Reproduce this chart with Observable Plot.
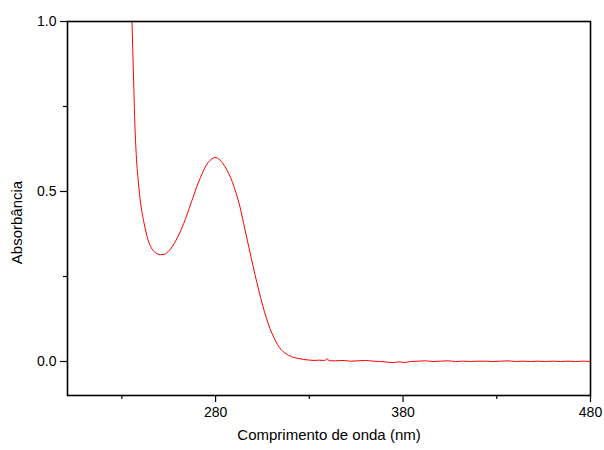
<!DOCTYPE html>
<html>
<head>
<meta charset="utf-8">
<script src="https://cdn.jsdelivr.net/npm/d3@7"></script>
<script src="https://cdn.jsdelivr.net/npm/@observablehq/plot@0.6"></script>
<style>
  body { margin: 0; background: #fff; }
  svg { font-family: "Liberation Sans", Arial, sans-serif; }
</style>
</head>
<body>
<div id="chart"></div>
<script>
// Wavelength (nm)
const wavelength = [
  235.4, 236.3, 236.8, 237.5, 238.8, 240.0, 241.8, 243.9, 246.2, 248.5, 250.7,
  252.5, 254, 256, 258, 260, 262, 264, 266, 268, 270, 272, 274, 276, 278, 279.6, 281,
  283, 285, 287, 289, 291, 293, 295, 297, 299, 301, 303, 305, 307, 309, 311, 313,
  315, 317, 319, 321, 323, 325, 327, 330, 333, 335, 338, 339.6, 340.5, 344, 348, 352,
  356, 360, 364, 368, 372, 375, 378, 381, 384, 388, 392, 396, 400, 404, 408, 412,
  416, 420, 424, 428, 432, 436, 440, 444, 448, 452, 456, 460, 464, 468, 472, 476, 480
];
// Absorbance
const absorbance = [
  1.0, 0.822, 0.721, 0.626, 0.528, 0.466, 0.408, 0.359, 0.330, 0.318, 0.314,
  0.315, 0.32, 0.331, 0.348, 0.368, 0.393, 0.42, 0.452, 0.483, 0.515, 0.542, 0.567, 0.585, 0.596, 0.6, 0.598,
  0.589, 0.573, 0.553, 0.527, 0.494, 0.455, 0.405, 0.355, 0.305, 0.256, 0.21, 0.167, 0.13, 0.097, 0.072, 0.05,
  0.035, 0.025, 0.018, 0.013, 0.01, 0.008, 0.006, 0.004, 0.003, 0.004, 0.003, 0.008, 0.002, 0.002, 0.003, 0.001,
  0.002, 0.003, 0.001, 0.0, -0.002, -0.003, -0.001, -0.003, 0.0, 0.001, 0.002, 0.0, 0.001, 0.002, 0.0, 0.001,
  0.0, 0.001, 0.001, 0.0, 0.001, 0.002, 0.0, 0.001, 0.0, 0.001, 0.0, 0.001, 0.0, 0.001, 0.0, 0.001, 0.0
];
const xMajorTicks = [280, 380, 480];
const xMinorTicks = [230, 330, 430];
const yMajorTicks = [0.0, 0.5, 1.0];
const yMinorTicks = [0.25, 0.75];
const xLabel = "Comprimento de onda (nm)";
const yLabel = "Absorbância";

const data = wavelength.map((w, i) => ({w, a: absorbance[i]}));

const chart = Plot.plot({
  width: 604,
  height: 450,
  marginLeft: 67,
  marginRight: 14,
  marginTop: 21,
  marginBottom: 55,
  x: {domain: [201, 480]},
  y: {domain: [-0.1, 1.0]},
  style: {fontFamily: "Liberation Sans, Arial, sans-serif", fontSize: "14px", color: "#000"},
  marks: [
    Plot.axisX(xMinorTicks, {tickSize: 4, text: null, label: null, strokeWidth: 1.2}),
    Plot.axisX(xMajorTicks, {tickSize: 7, tickPadding: 5, tickFormat: d => String(d), label: null, strokeWidth: 1.2, fontSize: 14}),
    Plot.axisY(yMinorTicks, {tickSize: 4, text: null, label: null, strokeWidth: 1.2}),
    Plot.axisY(yMajorTicks, {tickSize: 7, tickPadding: 4, tickFormat: d3.format(".1f"), label: null, strokeWidth: 1.2, fontSize: 14}),
    Plot.line(data, {x: "w", y: "a", stroke: "#ff0000", strokeWidth: 1, curve: "monotone-x", clip: true}),
    Plot.frame({stroke: "#000", strokeWidth: 1.6}),
    Plot.text([xLabel], {text: d => d, frameAnchor: "bottom", dy: 44, fontSize: 15, fill: "#000"}),
    Plot.text([yLabel], {text: d => d, frameAnchor: "left", textAnchor: "middle", dx: -50, dy: 14, rotate: -90, fontSize: 15, fill: "#000"})
  ]
});
document.getElementById("chart").appendChild(chart);
</script>
</body>
</html>
